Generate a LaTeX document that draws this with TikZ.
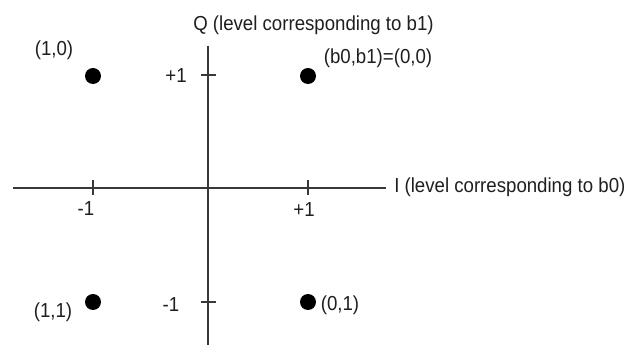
\documentclass[tikz,border=0pt]{standalone}
\usepackage{fontspec}
\setmainfont{Liberation Sans}[FakeStretch=0.92]
\begin{document}
\begin{tikzpicture}[x=0.75pt,y=-0.75pt,
  axisline/.style={draw=black!78, line width=1.3pt},
  tickline/.style={draw=black!78, line width=1.2pt},
  lbl/.style={font=\fontsize{15.2}{17}\selectfont, text=black!88, inner sep=0pt},
  dotnode/.style={circle, fill=black, inner sep=0pt, minimum size=12pt}]
\fill[white] (0,0) rectangle (633,345);
\useasboundingbox (0,0) rectangle (633,345);
% axes
\coordinate (qtop) at (208,46);
\coordinate (qbot) at (208,345);
\coordinate (ileft) at (13,188);
\coordinate (iright) at (386,188);
\draw[axisline] (qtop) -- (qbot);
\draw[axisline] (ileft) -- (iright);
% ticks
\coordinate (tm1a) at (93,180.5); \coordinate (tm1b) at (93,195.5);
\coordinate (tp1a) at (308,180.5); \coordinate (tp1b) at (308,195.5);
\coordinate (tq1a) at (200.5,75); \coordinate (tq1b) at (215.5,75);
\coordinate (tqm1a) at (200.5,302); \coordinate (tqm1b) at (215.5,302);
\draw[tickline] (tm1a) -- (tm1b);
\draw[tickline] (tp1a) -- (tp1b);
\draw[tickline] (tq1a) -- (tq1b);
\draw[tickline] (tqm1a) -- (tqm1b);
% axis labels
\node[lbl, anchor=west] (qlabel) at (193,25) {Q (level corresponding to b1)};
\node[lbl, anchor=west] (ilabel) at (394,187) {I (level corresponding to b0)};
% tick labels
\node[lbl] (xm1) at (86,209) {-1};
\node[lbl] (xp1) at (304,210) {+1};
\node[lbl] (yp1) at (176,76) {+1};
\node[lbl] (ym1) at (171,305) {-1};
% constellation points
\node[dotnode] (p10) at (93,76) {};
\node[dotnode] (p00) at (308,76) {};
\node[dotnode] (p11) at (93,302) {};
\node[dotnode] (p01) at (308,302) {};
% point labels
\node[lbl] (l10) at (54,50) {(1,0)};
\node[lbl] (l00) at (378,58) {(b0,b1)=(0,0)};
\node[lbl] (l11) at (53,312) {(1,1)};
\node[lbl] (l01) at (340,305) {(0,1)};
\end{tikzpicture}
\end{document}
